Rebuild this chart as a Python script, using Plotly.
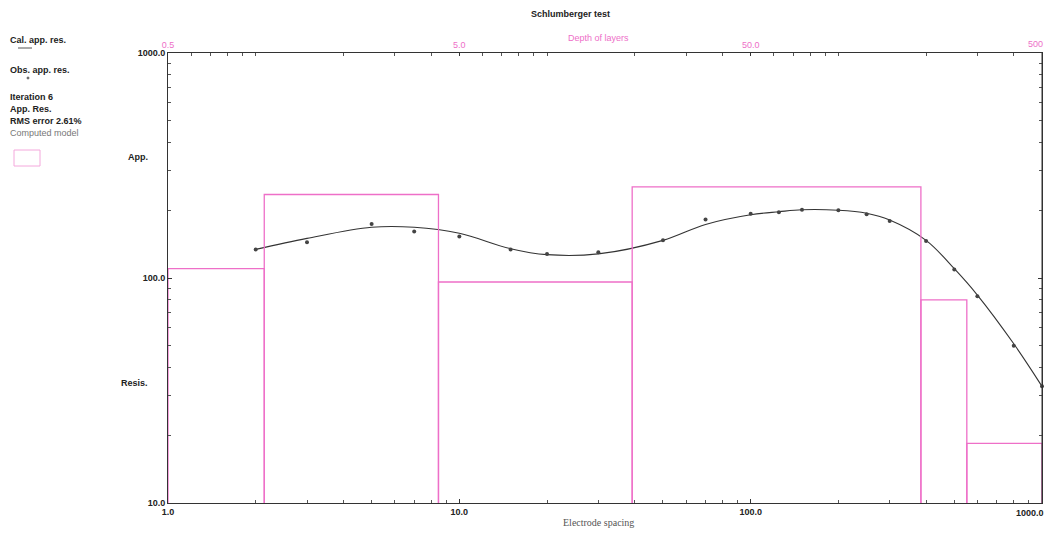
import plotly.graph_objects as go
import math

# ---- data ----
spacing = [2, 3, 5, 7, 10, 15, 20, 30, 50, 70, 100, 125, 150, 200, 250, 300, 400, 500, 600, 800, 1000]
obs_res = [134, 144, 174, 161, 153, 134, 128, 130, 147, 182, 193, 196, 201, 200, 192, 179, 146, 109, 83, 50, 33]
cal_res = [134, 150, 168, 168, 158, 135, 127, 128, 147, 173, 191, 197, 201, 200, 194, 181, 147, 110, 84, 51, 33]

layer_top = [0.5, 1.07, 4.24, 19.6, 192, 276]      # depth of layer tops (top axis)
layer_bot = [1.07, 4.24, 19.6, 192, 276, 500]
layer_res = [110, 235, 96, 254, 80, 18.4]

x_ticks = [1, 10, 100, 1000]
x_ticktext = ["1.0", "10.0", "100.0", "1000.0"]
y_ticks = [10, 100, 1000]
y_ticktext = ["10.0", "100.0", "1000.0"]
d_ticks = [0.5, 5, 50, 500]
d_ticktext = ["0.5", "5.0", "50.0", "500"]

MAG = "#ee6fc8"
FONT = "Liberation Sans"

OFF = 8                      # page body margin
W, H = 1056 - 2 * OFF, 535 - OFF
PL, PT, PW, PH = 168, 53, 874, 450   # plot area in page pixels
L, T = PL - OFF, PT - OFF
R = W - L - PW
B = H - T - PH

def px(x):
    return (x - PL) / PW

def py(y):
    return 1 - (y - PT) / PH

fig = go.Figure()

for d0, d1, r in zip(layer_top, layer_bot, layer_res):
    fig.add_trace(go.Scatter(x=[d0, d0, d1, d1], y=[10, r, r, 10], mode="lines",
                             line=dict(color=MAG, width=1.3), xaxis="x2", yaxis="y",
                             showlegend=False, hoverinfo="skip", cliponaxis=False))

fig.add_trace(go.Scatter(x=spacing, y=cal_res, mode="lines",
                         line=dict(color="#333333", width=1.1, shape="spline"),
                         showlegend=False, cliponaxis=False))
fig.add_trace(go.Scatter(x=spacing, y=obs_res, mode="markers",
                         marker=dict(color="#444444", size=4, symbol="circle"),
                         showlegend=False, cliponaxis=False))

tick_black = dict(family=FONT, size=9, color="#222", weight="bold")
tick_mag = dict(family=FONT, size=9, color=MAG)

fig.update_layout(
    width=W, height=H,
    margin=dict(l=L, r=R, t=T, b=B, autoexpand=False),
    paper_bgcolor="white", plot_bgcolor="white",
    xaxis=dict(type="log", range=[0, 3], tickvals=x_ticks[:-1], ticktext=x_ticktext[:-1],
               ticks="inside", ticklen=4, tickcolor="#333", showgrid=False, zeroline=False,
               showline=True, linecolor="#333", linewidth=1, mirror=False,
               tickfont=tick_black,
               minor=dict(ticks="inside", ticklen=3, tickcolor="#555", dtick="D1", showgrid=False)),
    xaxis2=dict(type="log", range=[math.log10(0.5), math.log10(500)], overlaying="x", side="top",
                tickvals=d_ticks[:-1], ticktext=d_ticktext[:-1], ticks="inside", ticklen=3, tickcolor="#333",
                showgrid=False, zeroline=False, showline=True, linecolor="#333", linewidth=1,
                tickfont=tick_mag,
                minor=dict(ticks="inside", ticklen=3, tickcolor="#555", dtick="D1", showgrid=False)),
    yaxis=dict(type="log", range=[1, 3], tickvals=y_ticks, ticktext=y_ticktext,
               ticks="inside", ticklen=4, tickcolor="#333", showgrid=False, zeroline=False,
               showline=True, linecolor="#333", linewidth=1, mirror="ticks",
               tickfont=tick_black,
               minor=dict(ticks="inside", ticklen=3, tickcolor="#555", dtick="D1", showgrid=False)),
    showlegend=False,
)

# end-of-axis labels kept inside the page
fig.add_annotation(text=x_ticktext[-1], x=math.log10(x_ticks[-1]), xref="x", y=0, yref="paper",
                   xanchor="right", yanchor="top", xshift=4, yshift=-3, showarrow=False,
                   font=tick_black)
fig.add_annotation(text=d_ticktext[-1], x=math.log10(d_ticks[-1]), xref="x2", y=1, yref="paper",
                   xanchor="right", yanchor="bottom", xshift=3, yshift=2, showarrow=False,
                   font=tick_mag)

def ann(text, x, y, size=9, color="#222", xanchor="left", family=FONT):
    fig.add_annotation(text=text, x=px(x), y=py(y), xref="paper", yref="paper",
                       showarrow=False, xanchor=xanchor, yanchor="middle",
                       font=dict(family=family, size=size, color=color))

ann("<b>Schlumberger test</b>", 570, 14, xanchor="center")
ann("Depth of layers", 598, 38, color=MAG, xanchor="center")
ann("Electrode spacing", 598, 522, color="#555", xanchor="center", family="Liberation Serif", size=10)
ann("<b>App.</b>", 150, 157, xanchor="right")
ann("<b>Resis.</b>", 150, 383, xanchor="right")

ann("<b>Cal. app. res.</b>", 8, 40)
ann("<b>Obs. app. res.</b>", 8, 70)
ann("<b>Iteration 6</b>", 8, 97)
ann("<b>App. Res.</b>", 8, 109)
ann("<b>RMS error 2.61%</b>", 8, 121)
ann("Computed model", 8, 133, color="#777")

# legend glyphs
fig.add_shape(type="line", xref="paper", yref="paper", x0=px(18), x1=px(32), y0=py(48), y1=py(48),
              line=dict(color="#555", width=1))
fig.add_shape(type="circle", xref="paper", yref="paper", x0=px(27), x1=px(29), y0=py(77), y1=py(79),
              line=dict(color="#666", width=1), fillcolor="#666")
fig.add_shape(type="rect", xref="paper", yref="paper", x0=px(14), x1=px(40), y0=py(150), y1=py(166),
              line=dict(color="#f4a8dc", width=1))
# right frame line
fig.add_shape(type="line", xref="paper", yref="paper", x0=1, x1=1, y0=0, y1=1,
              line=dict(color="#333", width=1))

fig.write_html("out.html")
